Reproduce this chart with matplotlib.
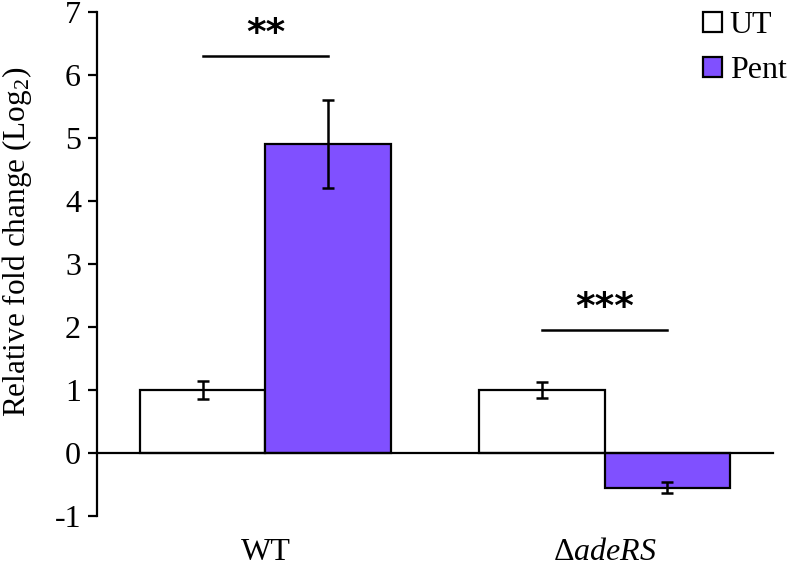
import matplotlib
matplotlib.use("Agg")
import matplotlib.pyplot as plt
import matplotlib.transforms as mtransforms
import numpy as np

groups = ["WT", r"$\mathrm{\Delta}\mathit{adeRS}$"]
series = ["UT", "Pent"]
ut_vals = [1.0, 1.0]
ut_err = [0.15, 0.12]
pent_vals = [4.9, -0.55]
pent_err = [0.7, 0.09]
sig_labels = ["**", "***"]
sig_heights = [6.3, 1.95]
yticks = [-1, 0, 1, 2, 3, 4, 5, 6, 7]

plt.rcParams['font.family'] = ['Liberation Serif', 'DejaVu Serif']
plt.rcParams['mathtext.fontset'] = 'custom'
plt.rcParams['mathtext.rm'] = 'Liberation Serif'
plt.rcParams['mathtext.it'] = 'Liberation Serif:italic'
plt.rcParams['axes.unicode_minus'] = False

purple = '#8050ff'
fs = 23
fig = plt.figure(figsize=(7.89, 5.70), dpi=100)
ax = fig.add_axes([97/789, 1-516/570, (773-97)/789, (516-12)/570])

x = np.arange(len(groups))
w = 0.369
ekw = dict(elinewidth=1.8, capthick=1.8, ecolor='black')
ax.bar(x - w/2, ut_vals, w, color='white', edgecolor='black', linewidth=1.6,
       yerr=ut_err, capsize=4.5, error_kw=ekw, label=series[0], zorder=2)
ax.bar(x + w/2, pent_vals, w, color=purple, edgecolor='black', linewidth=1.6,
       yerr=pent_err, capsize=4.5, error_kw=ekw, label=series[1], zorder=2)

ax.set_xlim(-0.497, 1.497)
ax.set_ylim(-1, 7)
ax.set_yticks(yticks)
ax.tick_params(axis='y', direction='out', length=6.5, width=1.6, labelsize=fs, pad=5)
ax.set_xticks([])
for s in ['top', 'right']:
    ax.spines[s].set_visible(False)
ax.spines['left'].set_linewidth(1.6)
ax.spines['bottom'].set_position(('data', 0))
ax.spines['bottom'].set_linewidth(1.6)

ax.set_ylabel(r"Relative fold change (Log$_2$)", fontsize=22.5)
ax.yaxis.set_label_coords(-0.093, (516-242)/504)

trans = mtransforms.blended_transform_factory(ax.transData, fig.transFigure)
for xi, g in zip(x, groups):
    ax.text(xi, 1-553/570, g, transform=trans, ha='center', va='center', fontsize=fs)

for xi, lab, h in zip(x, sig_labels, sig_heights):
    ax.plot([xi - w/2, xi + w/2], [h, h], color='black', lw=1.8, clip_on=False)
    ax.text(xi, h + 0.06, lab, ha='center', va='bottom', fontsize=27,
            family='DejaVu Sans', fontweight='bold')

leg = ax.legend(loc='upper right', bbox_to_anchor=(793/789, 1-5/570),
                bbox_transform=fig.transFigure, frameon=False, fontsize=fs,
                handlelength=0.58, handleheight=0.6, handletextpad=0.25,
                labelspacing=0.5, borderaxespad=0.1, borderpad=0.1)

fig.savefig("out.png", dpi=100)
